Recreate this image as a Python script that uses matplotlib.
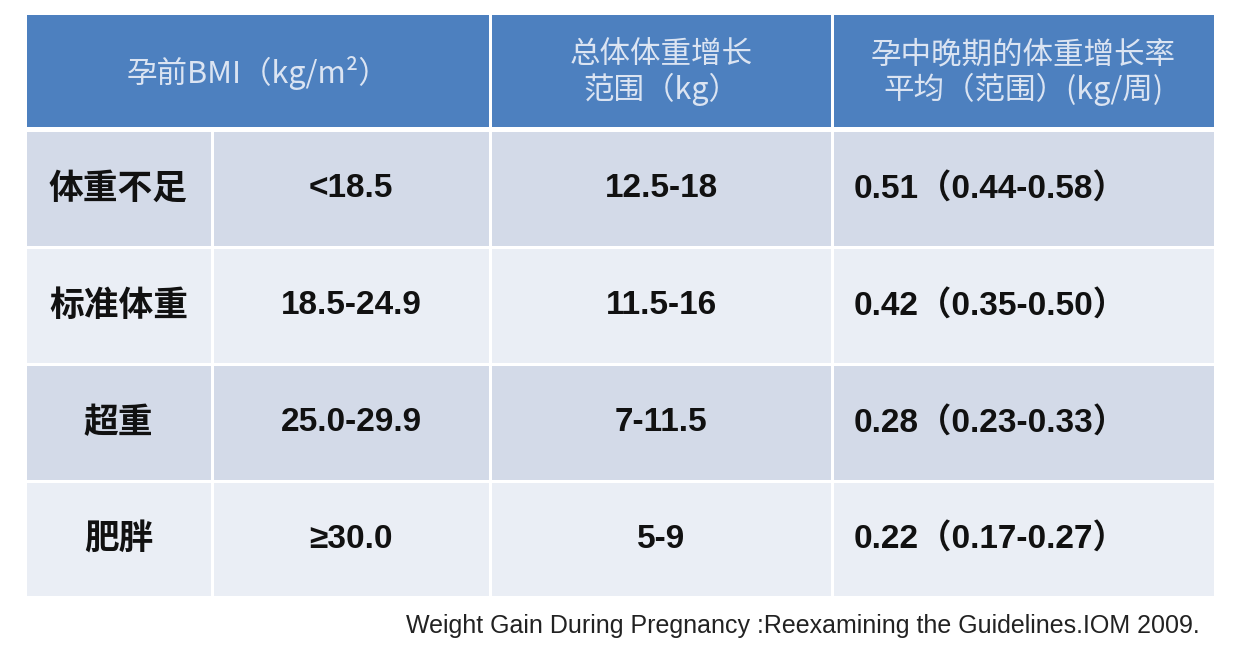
import matplotlib.pyplot as plt
from matplotlib.patches import Rectangle

plt.rcParams['font.family'] = ['Noto Sans CJK SC', 'DejaVu Sans']

headers = ['孕前BMI（kg/m²）', '总体体重增长\n范围（kg）', '孕中晚期的体重增长率\n平均（范围）(kg/周)']
categories = ['体重不足', '标准体重', '超重', '肥胖']
bmi = ['<18.5', '18.5-24.9', '25.0-29.9', '≥30.0']
total_gain = ['12.5-18', '11.5-16', '7-11.5', '5-9']
rate = ['0.51（0.44-0.58）', '0.42（0.35-0.50）', '0.28（0.23-0.33）', '0.22（0.17-0.27）']
source = 'Weight Gain During Pregnancy :Reexamining the Guidelines.IOM 2009.'

W, H = 1246, 664
fig = plt.figure(figsize=(W / 100, H / 100), dpi=100)
ax = fig.add_axes([0, 0, 1, 1])
ax.set_xlim(0, W)
ax.set_ylim(H, 0)
ax.axis('off')
fig.patch.set_facecolor('white')

col_edges = [25, 212, 490, 832, 1215]
row_edges = [15, 130, 247, 364, 481, 597]
gap = 3
head_color = '#4d80bf'
row_colors = ['#d3dae8', '#eaeef5', '#d3dae8', '#eaeef5']
latin = ['Liberation Sans', 'Noto Sans CJK SC', 'DejaVu Sans']

head_spans = [(col_edges[0], col_edges[2]), (col_edges[2], col_edges[3]), (col_edges[3], col_edges[4])]
for (x0, x1), txt in zip(head_spans, headers):
    ax.add_patch(Rectangle((x0 + gap / 2, row_edges[0]), x1 - x0 - gap, row_edges[1] - row_edges[0] - gap,
                           color=head_color, lw=0))
    ax.text((x0 + x1) / 2, (row_edges[0] + row_edges[1]) / 2, txt, ha='center', va='center',
            color='#dbe4f2', fontsize=22, linespacing=1.1)

for i in range(4):
    y0, y1 = row_edges[i + 1], row_edges[i + 2]
    vals = [categories[i], bmi[i], total_gain[i], rate[i]]
    for j in range(4):
        x0, x1 = col_edges[j], col_edges[j + 1]
        ax.add_patch(Rectangle((x0 + gap / 2, y0 + gap / 2), x1 - x0 - gap, y1 - y0 - gap,
                               color=row_colors[i], lw=0))
        fam = plt.rcParams['font.family'] if j == 0 else latin
        if j == 3:
            ax.text(x0 + 22, (y0 + y1) / 2, vals[j], ha='left', va='center', family=fam,
                    fontsize=24, fontweight='bold', color='#111111')
        else:
            ax.text((x0 + x1) / 2, (y0 + y1) / 2, vals[j], ha='center', va='center', family=fam,
                    fontsize=25 if j == 0 else 24, fontweight='bold', color='#111111')

ax.text(1200, 626, source, ha='right', va='center', fontsize=18,
        family=['Liberation Sans', 'DejaVu Sans'], color='#222222')

fig.savefig('out.png', dpi=100)
